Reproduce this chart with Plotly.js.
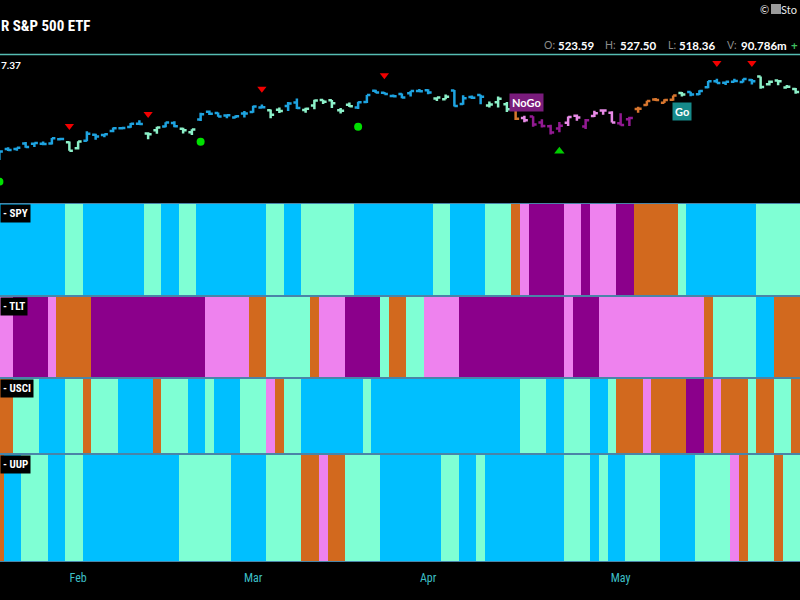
<!DOCTYPE html>
<html>
<head>
<meta charset="utf-8">
<script src="https://cdn.plot.ly/plotly-3.0.1.min.js"></script>
<style>
  html, body { margin: 0; padding: 0; background: #000; }
  #chart { width: 800px; height: 600px; }
</style>
</head>
<body>
<div id="chart"></div>
<script>
// ---------------- DATA ----------------
// Trading-day index 0 = 2024-01-19 ... 91 = 2024-05-30 (SPY daily bars)
const tickIdx  = [9, 29, 49, 71];
const tickText = ['Feb', 'Mar', 'Apr', 'May'];

const openP = [477.65,484.01,484.01,487.81,487.58,487.59,487.73,490.56,488.62,484.63,
  489.65,493.70,493.52,496.29,498.10,498.84,501.17,494.53,496.79,499.29,
  501.70,497.72,495.42,504.01,509.27,508.30,506.70,505.33,508.07,508.98,
  512.03,510.24,510.55,513.14,515.46,510.48,513.45,517.11,516.97,510.21,
  514.00,512.15,515.77,523.39,522.11,519.80,521.23,521.71,523.21,523.83,
  518.24,517.72,523.52,514.46,519.15,520.50,513.48,515.68,514.37,515.13,
  504.94,506.05,501.98,499.44,497.83,501.78,506.56,499.18,506.35,510.09,
  508.56,501.38,504.15,511.16,513.75,517.56,515.26,517.38,521.81,522.56,
  521.11,525.83,529.88,528.81,529.57,529.28,530.65,532.96,527.85,530.27,
  525.68,524.52];
const highP = [482.72,485.22,485.11,488.77,488.31,489.12,491.42,491.62,489.08,489.23,
  496.05,494.38,494.32,498.53,498.71,501.65,503.50,495.40,499.07,502.20,
  502.87,498.41,497.37,508.49,510.13,508.75,507.16,506.86,509.74,513.29,
  514.20,510.70,512.07,515.89,518.22,511.88,517.38,517.29,517.13,511.70,
  515.48,516.00,520.62,524.11,522.61,520.95,521.58,523.21,524.61,524.38,
  518.98,520.95,523.87,520.44,520.18,520.75,516.16,519.48,515.82,515.30,
  506.50,506.22,504.13,500.46,502.38,506.09,507.37,504.27,509.88,510.75,
  509.56,508.19,505.89,512.55,516.61,518.57,517.74,520.21,522.64,522.67,
  523.83,530.08,531.52,529.52,531.56,531.52,531.38,533.07,530.27,530.51,
  527.31,525.20];
const lowP = [476.54,482.78,482.89,484.88,485.39,486.54,487.17,490.11,482.86,483.80,
  489.30,490.23,492.05,495.36,497.26,498.49,500.24,490.72,494.40,498.80,
  498.75,494.45,493.56,503.02,507.10,505.86,504.75,504.96,505.35,508.56,
  512.00,504.91,508.42,509.81,511.13,508.50,510.86,514.49,511.82,508.12,
  512.44,511.12,515.08,521.91,520.97,519.61,518.40,519.49,522.78,520.97,
  516.48,517.67,512.76,514.01,517.89,514.35,512.09,512.08,509.08,503.58,
  502.21,499.12,498.56,493.86,495.43,499.53,503.13,497.49,505.70,507.25,
  501.98,499.87,499.55,508.56,513.30,516.45,515.14,516.71,519.59,519.74,
  520.56,525.18,528.54,527.32,529.17,529.07,527.60,524.72,526.88,527.11,
  525.37,521.33];
const closeP = [482.43,483.45,484.86,485.39,488.03,487.41,491.27,490.89,482.88,489.20,
  494.35,492.55,493.98,498.10,498.32,501.20,500.98,494.08,498.57,502.01,
  499.51,496.76,497.21,507.50,507.85,505.99,506.93,506.26,508.08,512.85,
  512.30,507.18,509.75,514.81,511.72,511.28,516.78,515.97,514.95,509.83,
  512.86,515.71,520.48,522.20,521.21,519.77,518.81,523.17,523.07,522.16,
  518.84,519.41,513.07,518.43,518.72,519.32,514.12,518.00,510.85,504.45,
  503.53,500.55,499.52,495.16,499.72,505.65,505.41,503.49,508.26,510.06,
  501.98,500.35,505.03,511.29,516.57,517.14,517.19,520.17,520.84,520.91,
  523.30,529.78,528.69,529.45,530.06,531.36,529.83,525.96,529.44,529.81,
  526.10,522.61];

// GoNoGo regime per trading day: b = strong Go, a = weak Go, o = amber, p = weak NoGo, u = strong NoGo
const spyRegime  = ("bbbbbbbb aa bbbbbbb aa bb aa bbbbbbbb aa bb aaaaaa bbbbbbbbb aa bbbb aaa " +
                    "o p uuuu pp u ppp uu ooooo a bbbbbbbb aaaaa").replace(/ /g, '');
const tltRegime  = ("pp uuuu p oooo uuuuuuuuuuuuu ppppp oo aaaaa o ppp uuuu a oo aa pppp " +
                    "uuuuuuuuuuuu p uuu pppppppppppp o aaaaa bb ooo").replace(/ /g, '');
const usciRegime = ("oo aaa bbb aa o aaa bbbb o aaa bb a bbb aaa p o aa bbbbbbb a " +
                    "bbbbbbbbbbbbbbbbb aaa bb aaa bb a ooo p oooo uu o p ooo a oo aa o").replace(/ /g, '');
const uupRegime  = ("o bb aaa bb aa bbbbbbbbbbb aaaaaa bbbb aaaa oo p oo aaaa bbbbbbb aa bb a " +
                    "bbbbbbbbb aaa b a bb aaaa bbbb aaaa p o aaa o aa").replace(/ /g, '');
const panelNames = ['SPY', 'TLT', 'USCI', 'UUP'];

// Signal markers (trading-day index, price)
const sellIdx   = [8, 17, 30, 44, 82, 86];
const sellPrice = [499.6, 507.7, 524.8, 533.9, 542.2, 542.2];
const dotIdx    = [0, 23, 41];
const dotPrice  = [462.0, 489.0, 499.1];
const upIdx     = [64];
const upPrice   = [482.5];
const regimeLabelText  = ['NoGo', 'Go'];
const regimeLabelIdx   = [60.2, 78];
const regimeLabelPrice = [515.8, 509.5];

// Header (last bar, 2024-05-31)
const hdrLabels = ['O:', 'H:', 'L:', 'V:'];
const hdrValues = ['523.59', '527.50', '518.36', '90.786m'];

// ---------------- STYLE ----------------
const codeOrder = ['b', 'a', 'o', 'p', 'u'];
const panelColor = { b: '#00bfff', a: '#7fffd4', o: '#d2691e', p: '#ee82ee', u: '#8b008b' };
const barColor   = { b: '#1ea3e0', a: '#8cf0c8', o: '#d8762e', p: '#e78ae6', u: '#931a93' };
const NARROW = "'Liberation Sans Narrow', 'Roboto Condensed', 'Arial Narrow', Roboto, sans-serif";
const LATO = "Lato, 'Open Sans', sans-serif";

const W = 800, H = 600, MB = 38, PH = H - MB;
const py = p => 1 - p / PH;          // pixel row -> paper y
const px = p => p / W;               // pixel col -> paper x
const dom = (top, bot) => [py(bot), py(top)];

const nDays = closeP.length;
const xs = Array.from({ length: nDays }, (_, i) => i);

// ---------------- TRACES ----------------
const traces = [];
codeOrder.forEach(c => {
  const idx = xs.filter(i => spyRegime[i] === c);
  if (!idx.length) return;
  traces.push({
    type: 'ohlc', xaxis: 'x', yaxis: 'y',
    x: idx, open: idx.map(i => openP[i]), high: idx.map(i => highP[i]),
    low: idx.map(i => lowP[i]), close: idx.map(i => closeP[i]),
    increasing: { line: { color: barColor[c], width: 2.5 } },
    decreasing: { line: { color: barColor[c], width: 2.5 } },
    tickwidth: 0.4, hoverinfo: 'skip', showlegend: false
  });
});

const cs = [];
codeOrder.forEach((c, k) => {
  const a = k / codeOrder.length, b = (k + 1) / codeOrder.length;
  cs.push([a, panelColor[c]], [b, panelColor[c]]);
});
[spyRegime, tltRegime, usciRegime, uupRegime].forEach((s, k) => {
  traces.push({
    type: 'heatmap', xaxis: 'x', yaxis: 'y' + (k + 2),
    x: xs.slice(0, s.length), y: [0],
    z: [s.split('').map(ch => codeOrder.indexOf(ch))],
    zmin: -0.5, zmax: codeOrder.length - 0.5,
    colorscale: cs, showscale: false, hoverinfo: 'skip'
  });
});

traces.push({ type: 'scatter', mode: 'markers', xaxis: 'x', yaxis: 'y', x: sellIdx, y: sellPrice,
  marker: { symbol: 'triangle-down', size: 8, color: '#f20000' }, hoverinfo: 'skip', showlegend: false });
traces.push({ type: 'scatter', mode: 'markers', xaxis: 'x', yaxis: 'y', x: dotIdx, y: dotPrice,
  marker: { symbol: 'circle', size: 8, color: '#00e000' }, hoverinfo: 'skip', showlegend: false });
traces.push({ type: 'scatter', mode: 'markers', xaxis: 'x', yaxis: 'y', x: upIdx, y: upPrice,
  marker: { symbol: 'triangle-up', size: 9, color: '#00cc00' }, hoverinfo: 'skip', showlegend: false });

// ---------------- LAYOUT ----------------
const hidden = { visible: false, showgrid: false, zeroline: false, fixedrange: true };
const annotations = [];
annotations.push({ xref: 'paper', yref: 'paper', x: px(-1), y: py(26.5), xanchor: 'left', yanchor: 'middle',
  text: '<b>R S&P 500 ETF</b>', showarrow: false, font: { family: NARROW, size: 15, color: '#ffffff' } });
annotations.push({ xref: 'paper', yref: 'paper', x: px(-1), y: py(65), xanchor: 'left', yanchor: 'middle',
  text: '<b>7.37</b>', showarrow: false, font: { family: LATO, size: 10, color: '#ffffff' } });
const hdrLabelX = [542, 603, 666, 725];
const hdrValueX = [556, 618, 677, 739];
hdrLabels.forEach((t, i) => {
  annotations.push({ xref: 'paper', yref: 'paper', x: px(hdrLabelX[i]), y: py(45), xanchor: 'left', yanchor: 'middle',
    text: t, showarrow: false, font: { family: LATO, size: 10.5, color: '#8c8c8c' } });
  annotations.push({ xref: 'paper', yref: 'paper', x: px(hdrValueX[i]), y: py(45), xanchor: 'left', yanchor: 'middle',
    text: '<b>' + hdrValues[i] + '</b>', showarrow: false, font: { family: LATO, size: 11.5, color: '#ffffff' } });
});
annotations.push({ xref: 'paper', yref: 'paper', x: px(789), y: py(45), xanchor: 'left', yanchor: 'middle',
  text: '<b>+</b>', showarrow: false, font: { family: LATO, size: 11.5, color: '#3fbf5f' } });
annotations.push({ xref: 'paper', yref: 'paper', x: px(758), y: py(9), xanchor: 'left', yanchor: 'middle',
  text: '©', showarrow: false, font: { family: LATO, size: 11, color: '#e8e8e8' } });
annotations.push({ xref: 'paper', yref: 'paper', x: px(799), y: py(9), xanchor: 'right', yanchor: 'middle',
  text: 'Sto', showarrow: false, font: { family: LATO, size: 11, color: '#e8e8e8' } });

const panelTop = [204, 297, 379, 455];
const panelBot = [295, 377, 453, 561];
panelNames.forEach((n, k) => {
  annotations.push({ xref: 'paper', yref: 'paper', x: px(0), y: py(panelTop[k] + 9.5), xanchor: 'left', yanchor: 'middle',
    text: '<b>- ' + n + '</b>', showarrow: false, bgcolor: '#000000', borderpad: 2,
    font: { family: NARROW, size: 11, color: '#ffffff' } });
});
regimeLabelText.forEach((t, i) => {
  annotations.push({ xref: 'x', yref: 'y', x: regimeLabelIdx[i], y: regimeLabelPrice[i], xanchor: 'center', yanchor: 'middle',
    text: '<b>' + t + '</b>', showarrow: false, bgcolor: i === 0 ? '#7a1c7c' : '#168a8a', borderpad: 2,
    font: { family: LATO, size: 11, color: '#ffffff' } });
});

const layout = {
  width: W, height: H,
  margin: { l: 0, r: 0, t: 0, b: MB, pad: 0 },
  paper_bgcolor: '#000000', plot_bgcolor: '#000000',
  showlegend: false,
  xaxis: { anchor: 'y5', range: [0.0714, 91.5], autorange: false, showgrid: false, zeroline: false,
    showline: false, ticks: '', tickvals: tickIdx, ticktext: tickText, ticklabelstandoff: 8,
    tickfont: { family: NARROW, size: 12, color: '#3dbfc6' }, rangeslider: { visible: false }, fixedrange: true },
  yaxis:  Object.assign({ domain: dom(55, 203), range: [447.57, 547.57] }, hidden),
  yaxis2: Object.assign({ domain: dom(panelTop[0], panelBot[0]), range: [-0.5, 0.5] }, hidden),
  yaxis3: Object.assign({ domain: dom(panelTop[1], panelBot[1]), range: [-0.5, 0.5] }, hidden),
  yaxis4: Object.assign({ domain: dom(panelTop[2], panelBot[2]), range: [-0.5, 0.5] }, hidden),
  yaxis5: Object.assign({ domain: dom(panelTop[3], panelBot[3]), range: [-0.5, 0.5] }, hidden),
  shapes: [
    { type: 'rect', xref: 'paper', yref: 'paper', x0: 0, x1: 1, y0: py(562), y1: py(203),
      fillcolor: '#4a84a8', line: { width: 0 }, layer: 'below' },
    { type: 'line', xref: 'paper', yref: 'paper', x0: 0, x1: 1, y0: py(54.5), y1: py(54.5),
      line: { color: '#55bdb3', width: 1.5 } },
    { type: 'rect', xref: 'paper', yref: 'paper', x0: px(771), x1: px(781), y0: py(14), y1: py(4),
      fillcolor: '#9a9a9a', line: { width: 0 } }
  ],
  annotations: annotations
};

Plotly.newPlot('chart', traces, layout, { staticPlot: true, displayModeBar: false });
</script>
</body>
</html>
